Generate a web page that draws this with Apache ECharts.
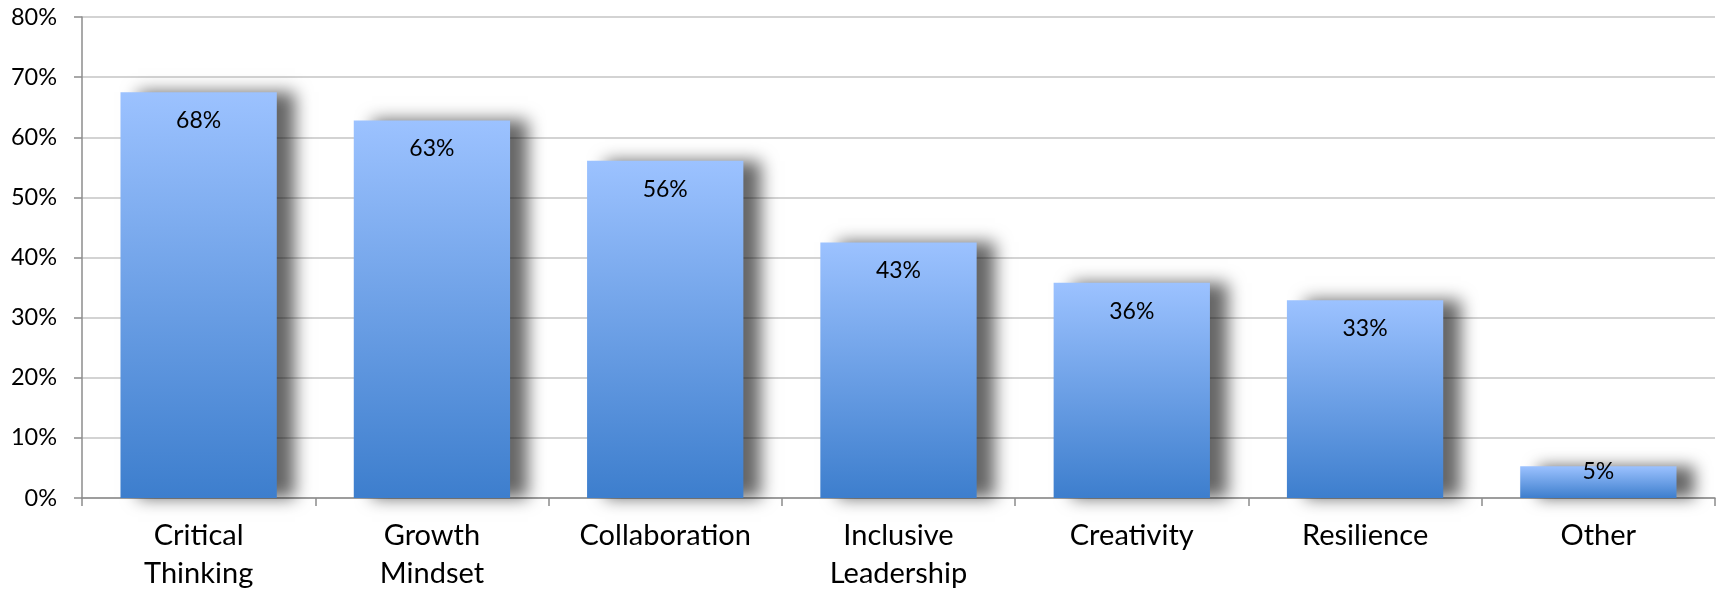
<!DOCTYPE html>
<html><head><meta charset="utf-8">
<script src="https://cdn.jsdelivr.net/npm/echarts@6/dist/echarts.min.js"></script>
<style>html,body{margin:0;padding:0;background:#fff}#c{width:1719px;height:595px}</style>
</head><body><div id="c"></div>
<script>
const categories = ['Critical\nThinking', 'Growth\nMindset', 'Collaboration', 'Inclusive\nLeadership', 'Creativity', 'Resilience', 'Other'];
const values = [67.5, 62.8, 56.1, 42.5, 35.8, 32.9, 5.3];
const labels = ['68%', '63%', '56%', '43%', '36%', '33%', '5%'];
const yTicks = [0, 10, 20, 30, 40, 50, 60, 70, 80];

const FONT = 'Lato';
const chart = echarts.init(document.getElementById('c'), null, {renderer: 'canvas'});
const seriesData = values.map(v => v < 10 ? {value: v, label: {distance: -6}} : v);
chart.setOption({
  animation: false,
  grid: {left: 82, right: 4, top: 17, bottom: 97},
  xAxis: {
    type: 'category', data: categories,
    axisLine: {lineStyle: {color: '#8c8c8c', width: 1.5}},
    axisTick: {show: true, length: 8, lineStyle: {color: '#8c8c8c', width: 1.5}},
    axisLabel: {color: '#000', fontFamily: FONT, fontSize: 29, lineHeight: 38, margin: 19, interval: 0}
  },
  yAxis: {
    type: 'value', min: yTicks[0], max: yTicks[yTicks.length - 1], interval: 10,
    axisLine: {show: true, lineStyle: {color: '#8c8c8c', width: 1.5}},
    axisTick: {show: true, length: 8, lineStyle: {color: '#8c8c8c', width: 1.5}},
    splitLine: {lineStyle: {color: '#c4c4c4', width: 1.5}},
    axisLabel: {color: '#000', fontFamily: FONT, fontSize: 23.5, margin: 25, formatter: v => v + '%'}
  },
  series: [{
    type: 'bar', data: seriesData, barCategoryGap: '33%',
    itemStyle: {
      color: new echarts.graphic.LinearGradient(0, 0, 0, 1, [
        {offset: 0, color: '#9cc2ff'}, {offset: 1, color: '#3d7ecd'}
      ]),
      shadowColor: 'rgba(0,0,0,0.6)', shadowBlur: 16, shadowOffsetX: 18, shadowOffsetY: 0
    },
    label: {
      show: true, position: 'insideTop', distance: 17, color: '#000',
      fontFamily: FONT, fontSize: 23,
      formatter: p => labels[p.dataIndex]
    }
  }]
});
</script></body></html>
